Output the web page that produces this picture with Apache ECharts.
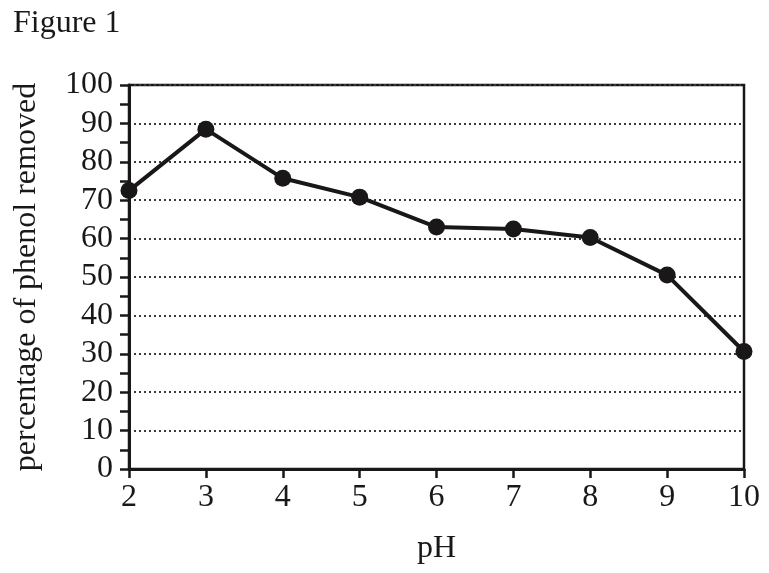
<!DOCTYPE html>
<html>
<head>
<meta charset="utf-8">
<script src="https://cdn.jsdelivr.net/npm/echarts@6/dist/echarts.min.js"></script>
<style>
html,body{margin:0;padding:0;background:#fff;}
#c{width:769px;height:573px;}
</style>
</head>
<body>
<div id="c"></div>
<script>
const pH = [2, 3, 4, 5, 6, 7, 8, 9, 10];
const removed = [72.5, 88.5, 75.7, 70.8, 63, 62.5, 60.3, 50.5, 30.6];
const titleText = 'Figure 1';
const xName = 'pH';
const yName = 'percentage of phenol removed';

const ink = '#1a1718';
const font = '"Liberation Serif", "Times New Roman", serif';

const chart = echarts.init(document.getElementById('c'), null, {renderer: 'canvas'});
chart.setOption({
  backgroundColor: '#fff',
  animation: false,
  title: {
    text: titleText, left: 8, top: 3,
    textStyle: {fontFamily: font, fontSize: 32, fontWeight: 'normal', color: ink}
  },
  grid: {
    left: 129, right: 25, top: 85, bottom: 104,
    show: true, borderColor: ink, borderWidth: 2.5, backgroundColor: 'transparent'
  },
  xAxis: {
    type: 'value', min: 2, max: 10, interval: 1,
    name: xName, nameLocation: 'middle', nameGap: 64,
    nameTextStyle: {fontFamily: font, fontSize: 32, color: ink},
    axisLine: {show: true, lineStyle: {color: ink, width: 3}},
    axisTick: {show: true, inside: false, length: 9, lineStyle: {color: ink, width: 2.5}},
    axisLabel: {fontFamily: font, fontSize: 32, color: ink, margin: 13},
    splitLine: {show: false}
  },
  yAxis: {
    type: 'value', min: 0, max: 100, interval: 10,
    name: yName, nameLocation: 'middle', nameRotate: 90, nameGap: 86,
    nameTextStyle: {fontFamily: font, fontSize: 32, color: ink},
    axisLine: {show: true, lineStyle: {color: ink, width: 3}},
    axisTick: {show: true, inside: false, length: 9, lineStyle: {color: ink, width: 2.5}},
    minorTick: {show: true, splitNumber: 2, length: 9, lineStyle: {color: ink, width: 2.5}},
    axisLabel: {fontFamily: font, fontSize: 32, color: ink, margin: 16},
    splitLine: {show: true, lineStyle: {color: '#3a3a3a', width: 2, type: [2, 3]}}
  },
  series: [{
    type: 'line',
    data: pH.map((x, i) => [x, removed[i]]),
    symbol: 'circle', symbolSize: 17,
    lineStyle: {color: ink, width: 4},
    itemStyle: {color: ink},
    clip: false
  }]
});
</script>
</body>
</html>
